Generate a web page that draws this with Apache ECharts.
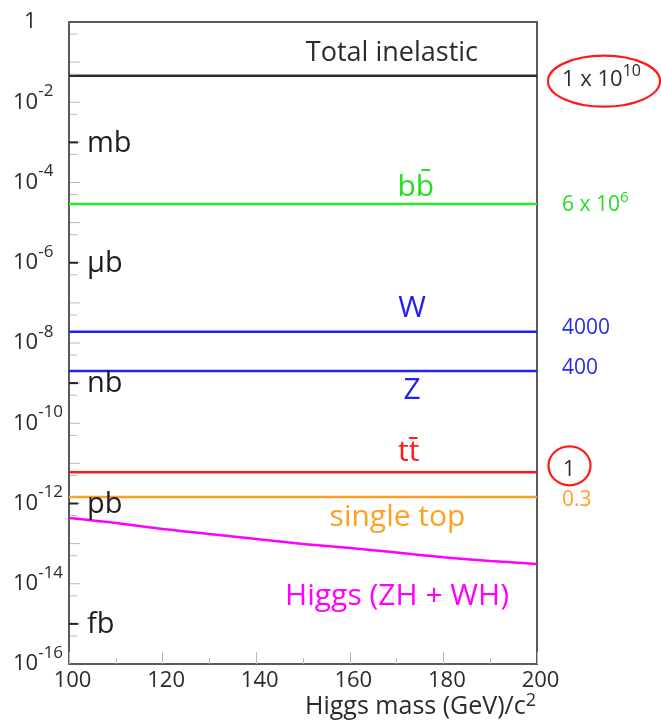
<!DOCTYPE html>
<html>
<head>
<meta charset="utf-8">
<title>Cross sections vs Higgs mass</title>
<script src="https://cdn.jsdelivr.net/npm/echarts@6.0.0/dist/echarts.min.js"></script>
<style>
html, body { margin: 0; padding: 0; background: #fff; }
#chart { width: 661px; height: 722px; }
</style>
</head>
<body>
<div id="chart"></div>
<script>
// Higgs mass axis (GeV/c^2)
const massRange = [100, 200];

// Associated Higgs production (ZH + WH), cross section in barns
const higgsMass = [100, 110, 120, 130, 140, 150, 160, 170, 180, 190, 200];
const higgsXsec = [4.35e-13, 3.27e-13, 2.31e-13, 1.74e-13, 1.30e-13, 9.8e-14, 7.8e-14, 6.0e-14, 4.6e-14, 3.7e-14, 3.1e-14];

// Mass-independent processes, cross section in barns
const processNames = ['Total inelastic', 'bb\u0304', 'W', 'Z', 'tt\u0304', 'single top'];
const processXsec = [4.6e-2, 2.9e-5, 1.9e-8, 2.0e-9, 6.0e-12, 1.45e-12];

// Event rates relative to top-pair production
const rateLabels = ['1 x 10^10', '6 x 10^6', '4000', '400', '1', '0.3'];

// Cross-section units marked along the vertical axis
const unitNames = ['mb', '\u00b5b', 'nb', 'pb', 'fb'];
const unitValues = [1e-3, 1e-6, 1e-9, 1e-12, 1e-15];

// Vertical axis range (barns) and its tick positions
const xsecRange = [1e-16, 1];
const decadeTicks = [1e-1, 1e-2, 1e-3, 1e-4, 1e-5, 1e-6, 1e-7, 1e-8, 1e-9, 1e-10, 1e-11, 1e-12, 1e-13, 1e-14, 1e-15];
const halfDecadeTicks = [5e-1, 5e-2, 5e-3, 5e-4, 5e-5, 5e-6, 5e-7, 5e-8, 5e-9, 5e-10, 5e-11, 5e-12, 5e-13, 5e-14, 5e-15, 5e-16];

// ---- styling ----
const FONT = "'Open Sans', 'Noto Sans', sans-serif";
const INK = '#2b2b2b';
const AXIS = '#5a5a5a';
const TICK = '#b8b8b8';
const processColors = ['#2b2b2b', '#22ee22', '#2222ee', '#2222ee', '#ff1a1a', '#ffa022'];
const nameColors = ['#2b2b2b', '#22dd22', '#2222ee', '#2222ee', '#ff1a1a', '#ffa022'];
const HIGGS_COLOR = '#ff00ff';
const RING = '#ff1a1a';

// where each process name sits: mass at its centre, pixel shift from its line
const nameLayout = [
  { mass: 169.0, dy: -22, size: 27 },
  { mass: 174.1, dy: -17, size: 30 },
  { mass: 173.3, dy: -23, size: 30 },
  { mass: 173.3, dy: 19, size: 30 },
  { mass: 172.6, dy: -20, size: 30 },
  { mass: 170.2, dy: 20, size: 30 }
];
// shift of each rate label from its line, sizes and superscript lift
const rateLayout = [
  { dy: 4, size: 22, sup: 16, lift: 17, color: INK },
  { dy: 1, size: 21, sup: 15, lift: 14, color: '#22dd22' },
  { dy: -4, size: 21, color: '#2a2aee' },
  { dy: -3, size: 21, color: '#2a2aee' },
  { dy: -2, size: 21, color: INK },
  { dy: 3, size: 21, color: '#ffa022' }
];

// rich text "a^b": the exponent is raised by padding below it
function powRich(text, base, sup, lift, color) {
  const parts = text.split('^');
  const str = parts.length > 1 ? '{b|' + parts[0] + '}{s|' + parts[1] + '}' : '{b|' + parts[0] + '}';
  return {
    text: str,
    rich: {
      b: { fontSize: base, lineHeight: base, fill: color, fontFamily: FONT },
      s: { fontSize: sup || 14, lineHeight: sup || 14, padding: [0, 0, lift || 0, 0], fill: color, fontFamily: FONT }
    }
  };
}

const series = processNames.map((name, i) => ({
  type: 'line',
  name: name,
  data: [[massRange[0], processXsec[i]], [massRange[1], processXsec[i]]],
  symbol: 'none',
  silent: true,
  lineStyle: { color: processColors[i], width: 2.5 },
  z: 3
}));
series.push({
  type: 'line',
  name: 'Higgs (ZH + WH)',
  data: higgsMass.map((m, i) => [m, higgsXsec[i]]),
  symbol: 'none',
  smooth: 0.3,
  silent: true,
  lineStyle: { color: HIGGS_COLOR, width: 2.5 },
  z: 3
});

const chart = echarts.init(document.getElementById('chart'), null, { renderer: 'canvas' });

const option = {
  animation: false,
  backgroundColor: '#ffffff',
  grid: {
    left: 69, right: 124, top: 22, bottom: 58,
    show: true, borderColor: AXIS, borderWidth: 2, backgroundColor: 'transparent',
    outerBoundsMode: 'none', containLabel: false
  },
  xAxis: {
    type: 'value',
    min: massRange[0], max: massRange[1], interval: 20,
    axisLine: { show: true, lineStyle: { color: AXIS, width: 2 } },
    axisTick: { show: true, inside: true, length: 12, lineStyle: { color: TICK, width: 1 } },
    minorTick: { show: true, splitNumber: 2, length: 6, lineStyle: { color: TICK, width: 1 } },
    splitLine: { show: false },
    axisLabel: { color: INK, fontFamily: FONT, fontSize: 22, margin: 6, padding: [0, 0, 0, 7] }
  },
  yAxis: {
    type: 'log',
    logBase: 10,
    min: xsecRange[0], max: xsecRange[1],
    interval: 2,
    splitNumber: 8,
    axisLine: { show: true, lineStyle: { color: AXIS, width: 2 } },
    axisTick: { show: false },
    minorTick: { show: false },
    splitLine: { show: false },
    axisLabel: {
      align: 'left', margin: 56, showMinLabel: true, showMaxLabel: true,
      formatter: v => {
        const e = Math.round(Math.log10(v));
        return e === 0 ? '{one|1}' : '{b|10}{s|' + e + '}';
      },
      rich: {
        b: { fontSize: 22, lineHeight: 22, color: INK, fontFamily: FONT },
        s: { fontSize: 17, lineHeight: 17, padding: [0, 0, 22, 0], color: INK, fontFamily: FONT },
        one: { fontSize: 22, lineHeight: 22, padding: [0, 0, 0, 11], color: INK, fontFamily: FONT }
      }
    }
  },
  series: series
};

chart.setOption(option);

// ---- annotations placed through the axes ----
const toPx = (m, v) => chart.convertToPixel({ gridIndex: 0 }, [m, v]);
const graphics = [];

// light tick marks on the vertical axis
decadeTicks.forEach(v => {
  const p = toPx(massRange[0], v);
  graphics.push({ type: 'line', z: 4, shape: { x1: p[0] + 1, y1: p[1], x2: p[0] + 11, y2: p[1] },
    style: { stroke: TICK, lineWidth: 1 } });
});
halfDecadeTicks.forEach(v => {
  const p = toPx(massRange[0], v);
  graphics.push({ type: 'line', z: 4, shape: { x1: p[0] + 1, y1: p[1], x2: p[0] + 8, y2: p[1] },
    style: { stroke: TICK, lineWidth: 1 } });
});

processNames.forEach((name, i) => {
  const L = nameLayout[i];
  const p = toPx(L.mass, processXsec[i]);
  graphics.push({
    type: 'text', x: p[0], y: p[1] + L.dy, z: 10,
    style: { text: name, fill: nameColors[i], fontFamily: FONT, fontSize: L.size,
             align: 'center', verticalAlign: 'middle' }
  });
});

// Higgs label below its curve
{
  const p = toPx(170.1, higgsXsec[7]);
  graphics.push({
    type: 'text', x: p[0], y: p[1] + 44, z: 10,
    style: { text: 'Higgs (ZH + WH)', fill: HIGGS_COLOR, fontFamily: FONT, fontSize: 30,
             align: 'center', verticalAlign: 'middle' }
  });
}

// rate labels to the right of the frame
rateLabels.forEach((txt, i) => {
  const p = toPx(massRange[1], processXsec[i]);
  const R = rateLayout[i];
  const r = powRich(txt, R.size, R.sup, R.lift, R.color);
  const centred = (i === 4);
  graphics.push({
    type: 'text', x: centred ? p[0] + 32 : p[0] + 25, y: p[1] + R.dy, z: 10,
    style: { text: r.text, rich: r.rich, fill: R.color, fontFamily: FONT, fontSize: R.size,
             align: centred ? 'center' : 'left', verticalAlign: 'middle' }
  });
});

// rings around the total inelastic and top-pair rates
{
  const pt = toPx(massRange[1], processXsec[0]);
  graphics.push({ type: 'ellipse', z: 9, shape: { cx: pt[0] + 67, cy: pt[1] + 5.5, rx: 56, ry: 25.5 },
    style: { fill: 'none', stroke: RING, lineWidth: 2.2 } });
  const pq = toPx(massRange[1], processXsec[4]);
  graphics.push({ type: 'ellipse', z: 9, shape: { cx: pq[0] + 32.5, cy: pq[1] - 6.5, rx: 21, ry: 19.5 },
    style: { fill: 'none', stroke: RING, lineWidth: 2.2 } });
}

// unit marks on the vertical axis
unitNames.forEach((u, i) => {
  const p = toPx(massRange[0], unitValues[i]);
  graphics.push({ type: 'line', z: 10, shape: { x1: p[0], y1: p[1], x2: p[0] + 9, y2: p[1] },
    style: { stroke: '#222', lineWidth: 2 } });
  graphics.push({
    type: 'text', x: p[0] + 18, y: p[1] + 1, z: 10,
    style: { text: u, fill: '#1e1e1e', fontFamily: FONT, fontSize: 29, align: 'left', verticalAlign: 'middle' }
  });
});

// horizontal axis title with superscript
{
  const p = toPx(massRange[1], xsecRange[0]);
  graphics.push({
    type: 'text', x: p[0] - 1, y: p[1] + 43, z: 10,
    style: {
      text: '{a|Higgs mass (GeV)/c}{s|2}',
      rich: {
        a: { fontSize: 25, lineHeight: 25, fill: INK, fontFamily: FONT },
        s: { fontSize: 18, lineHeight: 18, padding: [0, 0, 12, 0], fill: INK, fontFamily: FONT }
      },
      align: 'right', verticalAlign: 'middle'
    }
  });
}

chart.setOption({ graphic: { elements: graphics } });
</script>
</body>
</html>
